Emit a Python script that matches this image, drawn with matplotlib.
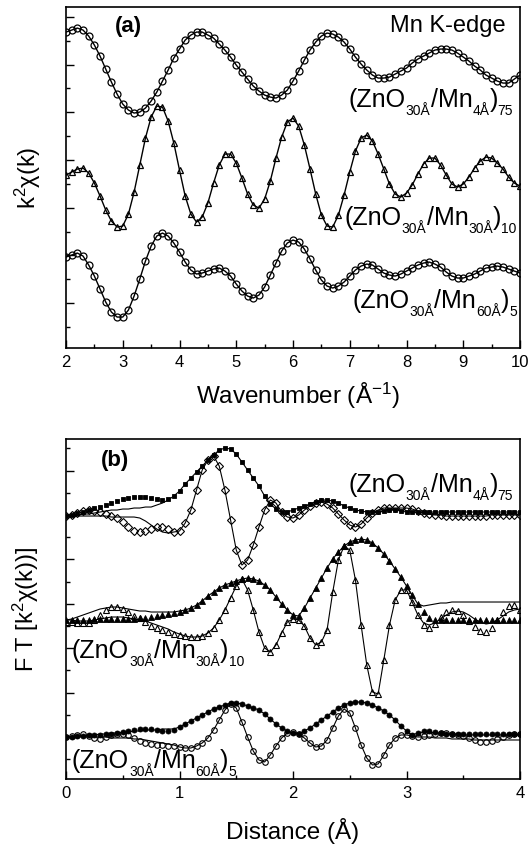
import numpy as np
import matplotlib
matplotlib.use("Agg")
import matplotlib.pyplot as plt
from matplotlib.ticker import MultipleLocator
from matplotlib.transforms import offset_copy

plt.rcParams["font.family"] = ["Liberation Sans", "DejaVu Sans"]
plt.rcParams["mathtext.fontset"] = "custom"
plt.rcParams["mathtext.rm"] = "Liberation Sans"
plt.rcParams["mathtext.it"] = "Liberation Sans:italic"
plt.rcParams["mathtext.bf"] = "Liberation Sans:bold"

# ============ (a) k^2-weighted EXAFS, Mn K-edge (a.u., curves already stacked) ============
k = np.round(np.arange(2.0, 10.01, 0.1), 1)
chi_4A = [271, 273, 275, 273, 267, 258, 247, 234, 221, 209,
          199, 193, 190, 191, 195, 202, 211, 222, 233, 245,
          254, 263, 268, 271, 271, 268, 265, 259, 253, 246,
          238, 231, 224, 217, 212, 208, 206, 205, 208, 213,
          222, 232, 243, 253, 261, 267, 270, 269, 266, 261,
          254, 246, 239, 233, 228, 225, 225, 226, 229, 232,
          235, 240, 244, 247, 250, 253, 254, 254, 253, 250,
          246, 242, 237, 233, 228, 225, 222, 220, 220, 224,
          228]
chi_30A = [128, 131, 134, 135, 130, 120, 107, 93, 82, 76,
           77, 89, 111, 138, 165, 186, 197, 196, 182, 160,
           133, 107, 89, 81, 86, 100, 120, 138, 149, 149,
           140, 125, 109, 98, 95, 104, 122, 145, 166, 181,
           185, 177, 158, 134, 109, 88, 77, 76, 88, 108,
           131, 152, 165, 168, 162, 149, 134, 119, 109, 106,
           110, 118, 129, 139, 145, 145, 138, 128, 119, 116,
           119, 126, 135, 142, 146, 145, 140, 134, 126, 120,
           117]
chi_60A = [46, 48, 50, 47, 38, 27, 14, 1, -9, -14,
           -14, -7, 7, 24, 42, 57, 67, 70, 67, 60,
           51, 41, 33, 29, 30, 32, 34, 35, 32, 27,
           19, 12, 7, 5, 8, 16, 28, 40, 52, 60,
           63, 61, 54, 44, 33, 23, 17, 15, 17, 21,
           27, 33, 37, 39, 38, 34, 30, 28, 27, 29,
           32, 35, 38, 40, 41, 39, 36, 31, 27, 25,
           25, 27, 29, 32, 35, 36, 37, 36, 34, 32,
           30]

# ============ (b) Fourier transforms: |FT| and Im(FT), relative to each baseline ============
r = np.round(np.arange(0.0, 4.001, 0.05), 2)
ft_offsets = [221, 117, 0]

mag_4A = [0, 1, 3, 4, 6, 8, 9, 11, 13, 15,
          17, 18, 19, 19, 19, 18, 17, 16, 17, 20,
          25, 32, 38, 44, 50, 56, 61, 66, 68, 67,
          62, 54, 46, 38, 30, 20, 12, 7, 4, 4,
          6, 8, 10, 12, 14, 16, 16, 15, 13, 10,
          8, 6, 5, 4, 4, 4, 5, 6, 6, 5,
          4, 4, 4, 4, 4, 4, 4, 4, 4, 4,
          4, 4, 4, 4, 4, 4, 4, 4, 4, 4,
          4]
im_4A = [0, 1, 3, 5, 6, 5, 4, 2, 0, -2,
         -6, -11, -15, -16, -15, -13, -11, -11, -13, -16,
         -15, -7, 6, 26, 46, 56, 60, 50, 26, -4,
         -34, -49, -44, -29, -11, 6, 16, 13, 4, -1,
         -2, 1, 6, 10, 13, 14, 12, 8, 2, -4,
         -9, -11, -8, -2, 3, 6, 8, 8, 8, 8,
         8, 7, 5, 3, 2, 1, 1, 0, 0, 0,
         0, 0, 0, 0, 0, 1, 1, 1, 1, 1,
         1]

mag_30A = [0, 0, 0, 0, 0, 1, 1, 1, 1, 1,
           1, 1, 1, 2, 2, 3, 4, 5, 6, 7,
           8, 10, 12, 15, 19, 24, 28, 32, 35, 37,
           39, 41, 42, 41, 39, 35, 30, 23, 16, 10,
           5, 4, 12, 22, 32, 42, 52, 61, 68, 74,
           78, 80, 81, 80, 77, 72, 66, 59, 51, 43,
           34, 25, 16, 8, 2, 0, 0, 0, 0, 0,
           0, 0, 0, 0, 0, 0, 0, 0, 0, 0,
           0]
im_30A = [-2, -2, -3, -3, -3, 0, 5, 10, 13, 13,
          11, 8, 4, 2, -2, -6, -8, -10, -12, -14,
          -15, -16, -17, -17, -16, -13, -8, 0, 10, 22,
          34, 41, 30, 10, -12, -28, -32, -25, -13, -2,
          1, 0, -6, -18, -25, -22, -10, 28, 60, 74,
          70, 40, -5, -45, -72, -74, -40, -5, 20, 30,
          30, 18, 5, -5, -8, -4, 3, 8, 10, 9,
          5, -1, -7, -11, -12, -8, 0, 8, 14, 15,
          10]

mag_60A = [0, 0, 1, 1, 2, 2, 2, 3, 3, 4,
           5, 6, 7, 8, 8, 8, 7, 6, 6, 7,
           10, 13, 16, 19, 22, 25, 28, 30, 32, 34,
           34, 33, 31, 29, 27, 23, 18, 13, 9, 6,
           4, 3, 6, 9, 13, 17, 21, 25, 29, 32,
           34, 35, 35, 34, 32, 29, 26, 22, 17, 11,
           6, 2, 4, 6, 6, 5, 4, 3, 3, 3,
           3, 3, 3, 3, 3, 3, 3, 3, 3, 3,
           3]
im_60A = [0, 1, 2, 3, 1, -1, -2, 0, 2, 3,
          3, 2, -1, -4, -6, -7, -8, -8, -9, -9,
          -10, -11, -11, -9, -6, -1, 7, 17, 27, 33,
          29, 15, 0, -14, -23, -25, -18, -9, -1, 4,
          5, 3, -1, -6, -10, -9, -3, 9, 21, 28,
          24, 9, -8, -21, -28, -27, -18, -8, -1, 2,
          2, 1, 0, 1, 2, 3, 4, 4, 3, 2,
          1, -1, -3, -5, -5, -4, -2, 0, 2, 3,
          3]

# fitted curves follow the data inside the fit window and differ outside it
mag_4A_fit = list(mag_4A)
mag_4A_fit[:19] = [0, 1, 1, 2, 2, 3, 4, 5, 6, 6, 7, 7, 8, 8, 9, 9, 11, 13, 16]
im_4A_fit = list(im_4A)
im_4A_fit[:19] = [0, 0, 0, 0, 0, 0, 0, 0, -1, -1, -1, -1, -1, -2, -5, -9, -13, -16, -17]

mag_30A_fit = list(mag_30A)
mag_30A_fit[:21] = [0, 1, 3, 5, 7, 9, 11, 12, 13, 13, 12, 11, 10, 9, 9, 8, 8, 8, 8, 8, 9]
mag_30A_fit[63:] = [14, 15, 16, 17, 17, 18, 18, 18, 18, 18, 18, 18, 18, 18, 18, 18, 18, 18]
im_30A_fit = list(im_30A)
im_30A_fit[:21] = [0, 0, -1, -1, -1, 0, 1, 2, 3, 3, 3, 2, 1, 0, -1, -3, -5, -7, -9, -12, -14]
im_30A_fit[62:] = [5, -3, -5, -3, 1, 5, 8, 9, 8, 5, 1, -2, -4, -3, 0, 4, 8, 10, 11]

mag_60A_fit = list(mag_60A)
mag_60A_fit[:21] = [0, 0, 1, 1, 2, 2, 3, 3, 4, 4, 5, 5, 6, 6, 7, 7, 7, 8, 8, 8, 10]
mag_60A_fit[62:] = [4, 5, 5, 4, 4, 3, 3, 3, 2, 2, 2, 2, 2, 2, 2, 2, 2, 2, 2]
im_60A_fit = list(im_60A)
im_60A_fit[:21] = [0, 0, 0, 0, 0, 0, 0, 0, -1, -1, -1, -1, -2, -2, -3, -4, -5, -6, -7, -8, -10]
im_60A_fit[62:] = [0, 0, 0, -1, -1, -1, -2, -2, -2, -2, -3, -3, -3, -3, -3, -3, -3, -3, -3]

LABEL_SIZE = 18
SUB_SIZE = 10
SUB_DROP = 5.8  # points below the baseline


def sample_label(ax, x, y, zno, mn, n, ha="left"):
    """(ZnO_zno/Mn_mn)_n written piece by piece so the subscripts sit low and small"""
    parts = [("(ZnO", False), (zno, True), ("/Mn", False), (mn, True), (")", False), (n, True)]
    fig = ax.figure
    renderer = fig.canvas.get_renderer()
    widths = []
    for s, sub in parts:
        t = ax.text(0, 0, s, fontsize=SUB_SIZE if sub else LABEL_SIZE)
        widths.append(t.get_window_extent(renderer).width * 72.0 / fig.dpi)
        t.remove()
    x0 = -sum(widths) if ha == "right" else 0.0
    for (s, sub), w in zip(parts, widths):
        tr = offset_copy(ax.transAxes, fig=fig, x=x0, y=-SUB_DROP if sub else 0.0,
                         units="points")
        ax.text(x, y, s, transform=tr, fontsize=SUB_SIZE if sub else LABEL_SIZE,
                ha="left", va="baseline")
        x0 += w


def style_axes(ax):
    ax.tick_params(which="both", direction="in", top=False, right=False,
                   labelsize=12, pad=5, width=1.0)
    ax.tick_params(which="major", length=5.5)
    ax.tick_params(which="minor", length=3)
    ax.tick_params(axis="y", labelleft=False)
    for sp in ax.spines.values():
        sp.set_linewidth(1.2)


fig = plt.figure(figsize=(5.31, 8.52), dpi=100)
ax_a = fig.add_axes([0.1243, 0.5915, 0.855, 0.4002])
ax_b = fig.add_axes([0.1243, 0.0857, 0.855, 0.3990])

# ---- panel (a) ----
for y, mk in [(chi_4A, "o"), (chi_30A, "^"), (chi_60A, "o")]:
    ax_a.plot(k, y, "-", color="k", lw=1.0)
    ax_a.plot(k, y, ls="none", marker=mk, mfc="none", mec="k", ms=5, mew=0.9)

ax_a.set_xlim(2, 10)
ax_a.set_ylim(-45, 296)
ax_a.xaxis.set_major_locator(MultipleLocator(1))
ax_a.xaxis.set_minor_locator(MultipleLocator(0.5))
ax_a.yaxis.set_major_locator(MultipleLocator(47.7))
ax_a.yaxis.set_minor_locator(MultipleLocator(23.85))
style_axes(ax_a)
ax_a.set_xlabel("Wavenumber (Å$^{-1}$)", fontsize=17.5, va="top")
ax_a.xaxis.set_label_coords(0.51, -0.095)
ax_a.set_ylabel("k$^2$χ(k)", fontsize=17)
ax_a.yaxis.set_label_coords(-0.05, 0.5)

ax_a.text(0.137, 0.944, "(a)", transform=ax_a.transAxes, fontsize=16,
          fontweight="bold", ha="center", va="center")
ax_a.text(0.969, 0.927, "Mn K-edge", transform=ax_a.transAxes, fontsize=17,
          ha="right", va="baseline")
sample_label(ax_a, 0.985, 0.707, "30Å", "4Å", "75", ha="right")
sample_label(ax_a, 0.993, 0.361, "30Å", "30Å", "10", ha="right")
sample_label(ax_a, 0.993, 0.117, "30Å", "60Å", "5", ha="right")

# ---- panel (b) ----
ft_sets = [
    (mag_4A, im_4A, mag_4A_fit, im_4A_fit, "s", "D", 3.4, 3.8),
    (mag_30A, im_30A, mag_30A_fit, im_30A_fit, "^", "^", 4.0, 4.2),
    (mag_60A, im_60A, mag_60A_fit, im_60A_fit, "o", "o", 3.6, 4.0),
]
for off, (mag, im, mag_fit, im_fit, m_mag, m_im, s_mag, s_im) in zip(ft_offsets, ft_sets):
    ax_b.plot(r, off + np.array(mag_fit), "-", color="k", lw=0.8)
    ax_b.plot(r, off + np.array(im_fit), "-", color="k", lw=0.8)
    ax_b.plot(r, off + np.array(mag), ls="none", marker=m_mag, mfc="k", mec="k",
              ms=s_mag, mew=0.6)
    ax_b.plot(r, off + np.array(im), ls="none", marker=m_im, mfc="none", mec="k",
              ms=s_im, mew=0.8)

ax_b.set_xlim(0, 4)
ax_b.set_ylim(-42, 298)
ax_b.xaxis.set_major_locator(MultipleLocator(1))
ax_b.xaxis.set_minor_locator(MultipleLocator(0.5))
ax_b.yaxis.set_major_locator(MultipleLocator(44.4))
ax_b.yaxis.set_minor_locator(MultipleLocator(22.2))
style_axes(ax_b)
ax_b.set_xlabel("Distance (Å)", fontsize=17.5, va="top")
ax_b.xaxis.set_label_coords(0.5, -0.115)
ax_b.set_ylabel("F T [k$^2$χ(k))]", fontsize=17)
ax_b.yaxis.set_label_coords(-0.055, 0.5)

ax_b.text(0.108, 0.938, "(b)", transform=ax_b.transAxes, fontsize=16,
          fontweight="bold", ha="center", va="center")
sample_label(ax_b, 0.985, 0.844, "30Å", "4Å", "75", ha="right")
sample_label(ax_b, 0.013, 0.356, "30Å", "30Å", "10")
sample_label(ax_b, 0.013, 0.032, "30Å", "60Å", "5")

fig.savefig("out.png", dpi=100, facecolor="white")
plt.close(fig)
